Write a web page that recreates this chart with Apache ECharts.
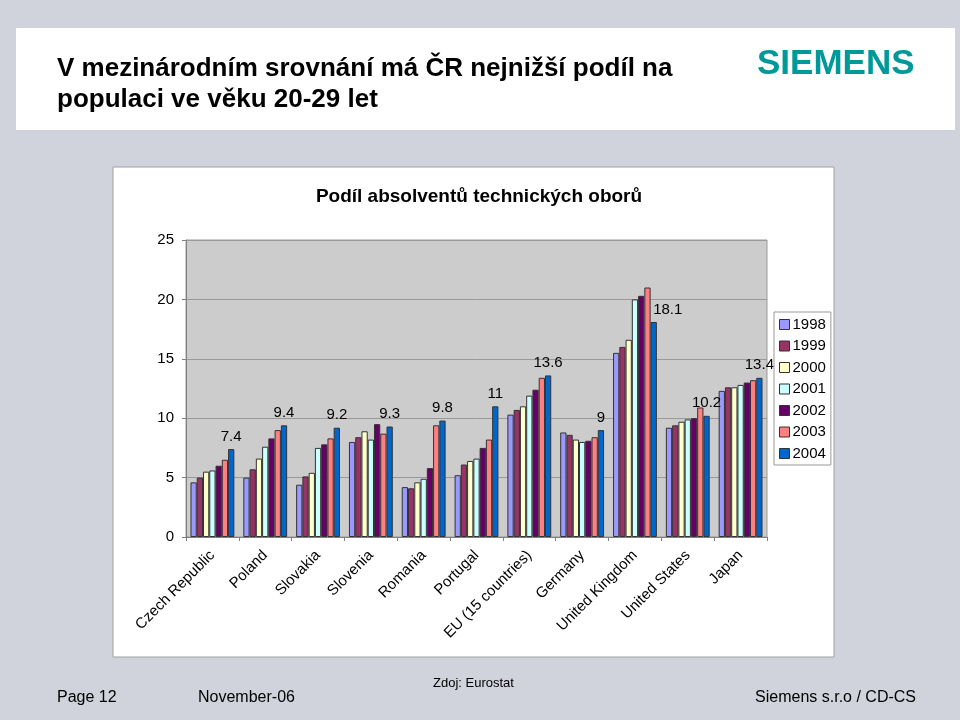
<!DOCTYPE html>
<html>
<head>
<meta charset="utf-8">
<script src="https://cdn.jsdelivr.net/npm/echarts@6/dist/echarts.min.js"></script>
<style>
  html, body { margin: 0; padding: 0; background: #d0d3dc; }
  #main { width: 960px; height: 720px; }
</style>
</head>
<body>
<div id="main"></div>
<script>
// data (Eurostat)
const countries = ['Czech Republic', 'Poland', 'Slovakia', 'Slovenia', 'Romania', 'Portugal',
  'EU (15 countries)', 'Germany', 'United Kingdom', 'United States', 'Japan'];
const years = ['1998', '1999', '2000', '2001', '2002', '2003', '2004'];
const v1998 = [4.6, 5.0, 4.4, 8.0, 4.2, 5.2, 10.3, 8.8, 15.5, 9.2, 12.3];
const v1999 = [5.0, 5.7, 5.1, 8.4, 4.1, 6.1, 10.7, 8.6, 16.0, 9.4, 12.6];
const v2000 = [5.5, 6.6, 5.4, 8.9, 4.6, 6.4, 11.0, 8.2, 16.6, 9.7, 12.6];
const v2001 = [5.6, 7.6, 7.5, 8.2, 4.9, 6.6, 11.9, 8.0, 20.0, 9.9, 12.8];
const v2002 = [6.0, 8.3, 7.8, 9.5, 5.8, 7.5, 12.4, 8.1, 20.3, 10.0, 13.0];
const v2003 = [6.5, 9.0, 8.3, 8.7, 9.4, 8.2, 13.4, 8.4, 21.0, 10.9, 13.2];
const v2004 = [7.4, 9.4, 9.2, 9.3, 9.8, 11.0, 13.6, 9.0, 18.1, 10.2, 13.4];
const yTicks = [0, 5, 10, 15, 20, 25];

const colors = ['#9999ff', '#993366', '#ffffcc', '#ccffff', '#660066', '#ff8080', '#0066cc'];
const allValues = [v1998, v1999, v2000, v2001, v2002, v2003, v2004];
const font = 'Arial, "Liberation Sans", sans-serif';

let myChart = echarts.init(document.getElementById('main'));

const series = years.map(function (y, i) {
  const s = {
    name: y,
    type: 'bar',
    data: allValues[i],
    barGap: '0%',
    barCategoryGap: '17%',
    itemStyle: { color: colors[i], borderColor: '#333', borderWidth: 1 },
    emphasis: { disabled: true }
  };
  if (y === '2004') {
    s.label = {
      show: true,
      position: 'top',
      distance: 5,
      color: '#000',
      fontSize: 15,
      fontFamily: font
    };
    // UK label sits right of its bar in the original
    s.data = allValues[i].map(function (v, k) {
      if (countries[k] === 'United Kingdom') {
        return { value: v, label: { offset: [14, 0] } };
      }
      return v;
    });
  }
  return s;
});

myChart.setOption({
  animation: false,
  backgroundColor: '#d0d3dc',
  textStyle: { fontFamily: font },
  graphic: [
    // header panel
    { type: 'rect', z: -10, shape: { x: 16, y: 28, width: 939, height: 102 }, style: { fill: '#fff' } },
    { type: 'text', left: 57, top: 53, style: { text: 'V mezinárodním srovnání má ČR nejnižší podíl na\npopulaci ve věku 20-29 let',
      font: 'bold 26px ' + font, fill: '#000', lineHeight: 31 } },
    { type: 'text', left: 757, top: 47, style: { text: 'SIEMENS',
      font: 'bold 35px ' + font, fill: '#009999' } },
    // chart panel
    { type: 'rect', z: -10, shape: { x: 113, y: 167, width: 721, height: 490 },
      style: { fill: '#fff', stroke: '#a0a0a0', lineWidth: 1 } },
    // footer
    { type: 'text', left: 57, top: 690, style: { text: 'Page 12', font: '16px ' + font, fill: '#000' } },
    { type: 'text', left: 198, top: 690, style: { text: 'November-06', font: '16px ' + font, fill: '#000' } },
    { type: 'text', left: 433, top: 677, style: { text: 'Zdoj: Eurostat', font: '13px ' + font, fill: '#000' } },
    { type: 'text', right: 44, top: 690, style: { text: 'Siemens s.r.o / CD-CS', font: '16px ' + font, fill: '#000' } }
  ],
  title: {
    text: 'Podíl absolventů technických oborů',
    left: 474,
    textAlign: 'center',
    top: 182,
    textStyle: { fontSize: 19, fontWeight: 'bold', color: '#000' }
  },
  legend: {
    data: years,
    orient: 'vertical',
    left: 774,
    top: 312,
    itemWidth: 10,
    itemHeight: 10,
    itemGap: 6.5,
    padding: [5, 5, 4, 5],
    backgroundColor: '#fff',
    borderColor: '#999',
    borderWidth: 1,
    borderRadius: 0,
    icon: 'rect',
    itemStyle: { borderColor: '#333', borderWidth: 1 },
    textStyle: { fontSize: 15, color: '#000', padding: [0, 0, 0, -2] }
  },
  grid: { left: 186, right: 193, top: 240, bottom: 183, show: true, backgroundColor: '#cccccc', borderColor: '#999', borderWidth: 1 },
  xAxis: {
    type: 'category',
    data: countries,
    axisLine: { lineStyle: { color: '#808080' } },
    axisTick: { show: true, length: 4, lineStyle: { color: '#808080' } },
    axisLabel: { rotate: 45, fontSize: 15, color: '#000', margin: 16, interval: 0 }
  },
  yAxis: {
    type: 'value',
    min: yTicks[0],
    max: yTicks[yTicks.length - 1],
    interval: 5,
    axisLine: { show: true, lineStyle: { color: '#808080' } },
    axisTick: { show: true, length: 4, lineStyle: { color: '#808080' } },
    axisLabel: { fontSize: 15, color: '#000', margin: 12 },
    splitLine: { lineStyle: { color: '#999' } }
  },
  series: series
});
</script>
</body>
</html>
